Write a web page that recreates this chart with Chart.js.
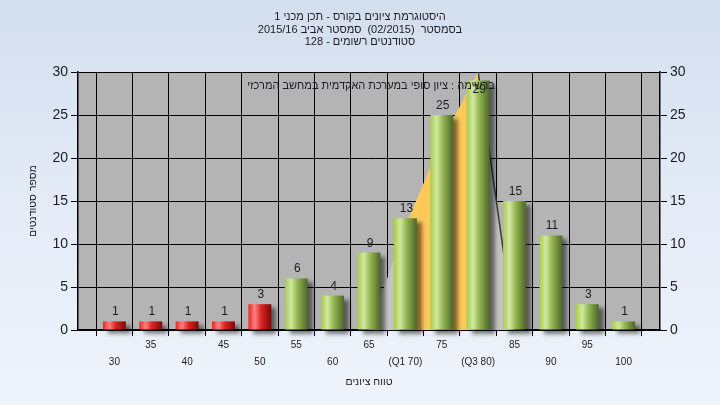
<!DOCTYPE html>
<html><head><meta charset="utf-8">
<script src="https://cdn.jsdelivr.net/npm/chart.js@4/dist/chart.umd.min.js"></script>
<style>
html,body{margin:0;padding:0;}
body{width:720px;height:405px;overflow:hidden;background:linear-gradient(180deg,#D3DEEE 0%,#E2EAF6 45%,#EFF4FB 100%);}
#wrap{position:relative;width:720px;height:405px;}
</style></head>
<body><div id="wrap"><canvas id="c" dir="rtl" width="720" height="405"></canvas></div>
<script>
const titleLines = ['היסטוגרמת ציונים בקורס - תכן מכני 1', 'בסמסטר  (02/2015)  סמסטר אביב 2015/16', 'סטודנטים רשומים - 128'];
const noteText = 'ברשימה : ציון סופי במערכת האקדמית במחשב המרכזי';
const yTitle = 'מספר סטודנטים';
const xTitle = 'טווח ציונים';
const categories = [30,35,40,45,50,55,60,65,70,75,80,85,90,95,100];
const counts = [1,1,1,1,3,6,4,9,13,25,29,15,11,3,1];
const tickLabels = ['30','35','40','45','50','55','60','65','(Q1 70)','75','(Q3 80)','85','90','95','100'];
const failLimit = 50;
const yMin = 0, yMax = 30, yStep = 5;
const xMin = 25, xMax = 105;
const shapeX = [65,70,75,80,85];
const shapeY = [0,12,22,30,0];
const iqrX = [70,75,80];
const iqrY = [12,22,30];

Chart.defaults.font.family = 'Arial, "Liberation Sans", sans-serif';
const txt = '#1c1c24';
const BAR_PCT = 0.63;

function barGradient(ctx){
  const chart = ctx.chart;
  const xs = chart.scales && chart.scales.x;
  const i = ctx.dataIndex;
  const fail = categories[i] <= failLimit;
  const fallback = fail ? '#E02020' : '#9CC050';
  if (!xs || ctx.type !== 'data') return fallback;
  const cx = xs.getPixelForValue(categories[i]);
  const w = Math.abs(xs.getPixelForValue(categories[1]) - xs.getPixelForValue(categories[0])) * BAR_PCT;
  if (!isFinite(cx) || !isFinite(w) || w <= 0) return fallback;
  const g = chart.ctx.createLinearGradient(cx - w/2, 0, cx + w/2, 0);
  if (fail){
    g.addColorStop(0, '#E42828');
    g.addColorStop(0.28, '#FF8080');
    g.addColorStop(0.55, '#E02424');
    g.addColorStop(1, '#7A0808');
  } else {
    g.addColorStop(0, '#A6CC4E');
    g.addColorStop(0.28, '#D2E8A0');
    g.addColorStop(0.55, '#94B652');
    g.addColorStop(1, '#4C6626');
  }
  return g;
}

const bgPlugin = {
  id:'bg',
  beforeDraw(chart){
    const {ctx, chartArea:a} = chart;
    ctx.save();
    ctx.fillStyle = '#B4B4B4';
    ctx.fillRect(a.left, a.top, a.right-a.left, a.bottom-a.top);
    ctx.restore();
  }
};
const shadowPlugin = {
  id:'shadow',
  beforeDatasetDraw(chart, args){
    if (args.meta.type !== 'bar') return;
    const ctx = chart.ctx;
    ctx.save();
    ctx.shadowColor = 'rgba(0,0,0,0.5)';
    ctx.shadowOffsetX = 5;
    ctx.shadowOffsetY = 4;
    ctx.shadowBlur = 4;
  },
  afterDatasetDraw(chart, args){
    if (args.meta.type !== 'bar') return;
    chart.ctx.restore();
  }
};
const labelPlugin = {
  id:'labels',
  afterDatasetsDraw(chart){
    const {ctx, chartArea:a} = chart;
    ctx.save();
    ctx.direction = 'rtl';
    ctx.fillStyle = txt;
    ctx.font = '12px Arial, "Liberation Sans", sans-serif';
    ctx.textAlign = 'center';
    ctx.textBaseline = 'alphabetic';
    chart.data.datasets.forEach((ds, di) => {
      const meta = chart.getDatasetMeta(di);
      if (meta.type !== 'bar') return;
      meta.data.forEach((el, i) => {
        let y = el.y - 6;
        if (y - 10 < a.top) y = el.y + 12;
        ctx.fillText(String(counts[i]), el.x + 1, y);
      });
    });
    ctx.font = '11px Arial, "Liberation Sans", sans-serif';
    ctx.textBaseline = 'middle';
    ctx.fillText(noteText, (a.left + a.right)/2 + 2, a.top + 14);
    ctx.restore();
  }
};

const chart = new Chart(document.getElementById('c'), {
  type:'bar',
  data:{
    datasets:[
      {
        type:'line', label:'shape', order:3,
        data: shapeX.map((x,i)=>({x, y:shapeY[i]})),
        fill:'origin', backgroundColor:'#C3C3C3',
        borderWidth:1.5, pointRadius:0, tension:0,
        borderColor:'rgba(0,0,0,0)',
        segment:{ borderColor: c => c.p0.parsed.x >= 80 ? '#3A3A3A' : 'rgba(0,0,0,0)' }
      },
      {
        type:'line', label:'iqr', order:2,
        data: iqrX.map((x,i)=>({x, y:iqrY[i]})),
        fill:'origin', backgroundColor:'#FFC95A',
        borderWidth:0, borderColor:'rgba(0,0,0,0)', pointRadius:0, tension:0
      },
      {
        type:'bar', label:'counts', order:1,
        data: categories.map((x,i)=>({x, y:counts[i]})),
        backgroundColor: barGradient,
        borderWidth:0,
        barPercentage: BAR_PCT, categoryPercentage: 1,
        clip:false
      }
    ]
  },
  options:{
    responsive:false,
    animation:false,
    layout:{padding:0},
    plugins:{
      legend:{display:false},
      tooltip:{enabled:false},
      title:{
        display:true, text:titleLines, color:txt,
        font:{size:11, weight:'normal', lineHeight:'12.5px'},
        padding:{top:10.75, bottom:23.75}
      }
    },
    scales:{
      x:{
        type:'linear', min:xMin, max:xMax, offset:false,
        ticks:{
          stepSize:5, autoSkip:false, maxRotation:0, minRotation:0, padding:1,
          color:txt, font:{size:10, lineHeight:1.66},
          callback:(v)=>{ const i = categories.indexOf(v); if (i < 0) return ''; return i % 2 === 0 ? ['', tickLabels[i]] : tickLabels[i]; }
        },
        grid:{color:'#000', lineWidth:1, tickLength:6},
        border:{color:'#000', width:1.5},
        title:{display:true, text:xTitle, color:txt, font:{size:10.5}, padding:{top:0, bottom:17}},
        afterFit:s=>{ s.height = 75; }
      },
      y:{
        position:'left', min:yMin, max:yMax,
        ticks:{stepSize:yStep, padding:3, color:txt, font:{size:14}},
        grid:{color:'#000', lineWidth:1, tickLength:7},
        border:{color:'#000', width:1.5},
        title:{display:true, text:yTitle, color:txt, font:{size:10.5}, padding:{top:27, bottom:0}},
        afterFit:s=>{ s.width = 78; }
      },
      y2:{
        position:'right', min:yMin, max:yMax,
        ticks:{stepSize:yStep, padding:3, color:txt, font:{size:14}},
        grid:{drawOnChartArea:false, color:'#000', lineWidth:1, tickLength:7},
        border:{color:'#000', width:1.5},
        afterFit:s=>{ s.width = 60; }
      }
    }
  },
  plugins:[bgPlugin, shadowPlugin, labelPlugin]
});
chart.update();
</script>
</body></html>
